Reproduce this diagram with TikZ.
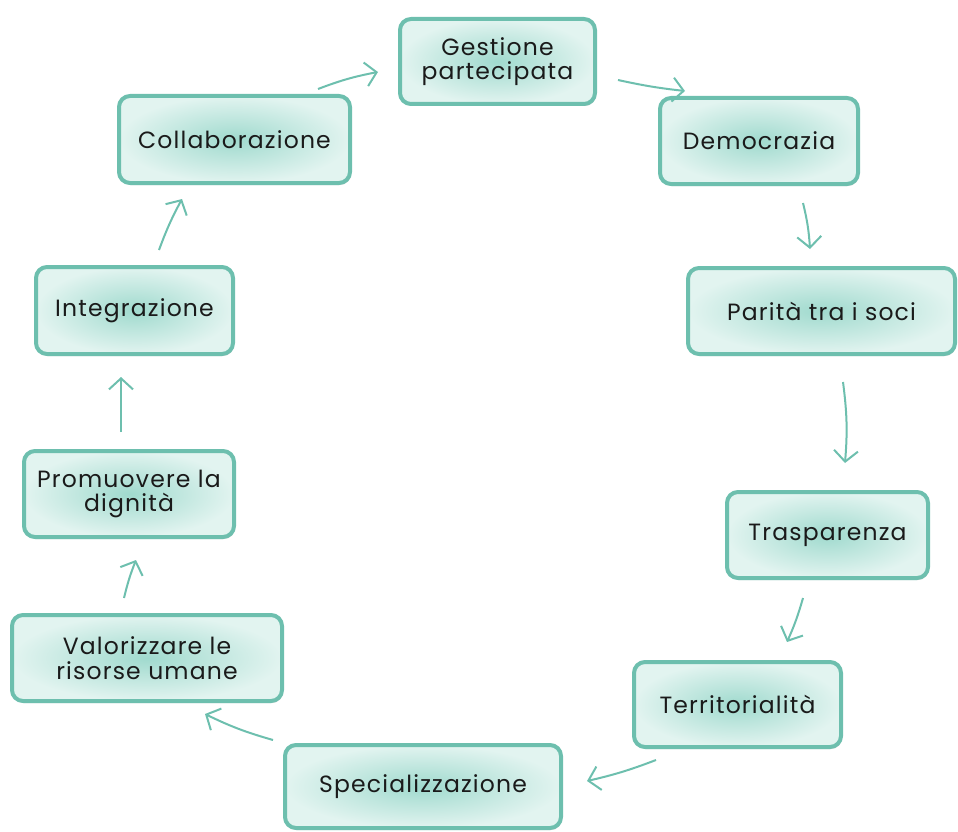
\documentclass[tikz,border=0pt]{standalone}
\usepackage{fontspec}
\setmainfont{Poppins}[LetterSpace=5]
\usetikzlibrary{arrows.meta,shadows}
\definecolor{tealb}{HTML}{6DBFAE}
\definecolor{fillin}{HTML}{A0DACE}
\definecolor{fillout}{HTML}{E2F4F0}
\definecolor{txt}{HTML}{1A1A1A}
\tikzset{
  box/.style={draw=tealb, line width=4pt, rounded corners=11pt, inner color=fillin, outer color=fillout,
    drop shadow={shadow xshift=1pt, shadow yshift=-2pt, opacity=0.25, fill=black!60},
    align=center, text=txt, font=\fontsize{23.5}{24.5}\selectfont, inner sep=0pt},
  conn/.style={draw=tealb, line width=2pt, -{Straight Barb[length=11pt,width=24pt,line width=2pt]}}
}
\begin{document}
\begin{tikzpicture}[x=1pt,y=-1pt]
\useasboundingbox (0,0) rectangle (958,832);
\node[box, minimum width=195pt, minimum height=85pt] (g) at (497.5,61.5) {Gestione\\partecipata};
\node[box, minimum width=198pt, minimum height=86pt] (d) at (759,141) {Democrazia};
\node[box, minimum width=267pt, minimum height=86pt] (p) at (821.5,311) {Parità tra i soci};
\node[box, minimum width=201pt, minimum height=86pt] (t) at (827.5,535) {Trasparenza};
\node[box, minimum width=207pt, minimum height=85pt] (te) at (737.5,704.5) {Territorialità};
\node[box, minimum width=276pt, minimum height=83pt] (s) at (423,786.5) {Specializzazione};
\node[box, minimum width=270pt, minimum height=86pt] (v) at (147,658) {Valorizzare le\\risorse umane};
\node[box, minimum width=210pt, minimum height=86pt] (pr) at (129,494) {Promuovere la\\dignità};
\node[box, minimum width=197pt, minimum height=87pt] (i) at (134.5,310.5) {Integrazione};
\node[box, minimum width=231pt, minimum height=87pt] (c) at (234.5,139.5) {Collaborazione};
% arrow end points
\coordinate (a1s) at (318,89);  \coordinate (a1e) at (378,72);
\coordinate (a2s) at (618,80);  \coordinate (a2e) at (685,91);
\coordinate (a3s) at (803,203); \coordinate (a3e) at (810,249);
\coordinate (a4s) at (843,382); \coordinate (a4e) at (845,463);
\coordinate (a5s) at (803,598); \coordinate (a5e) at (787,642);
\coordinate (a6s) at (656,760); \coordinate (a6e) at (587,781);
\coordinate (a7s) at (273,740); \coordinate (a7e) at (205,714);
\coordinate (a8s) at (124,598); \coordinate (a8e) at (136,560);
\coordinate (a9s) at (121,432); \coordinate (a9e) at (121,377);
\coordinate (a10s) at (159,250); \coordinate (a10e) at (182,199);
\draw[conn] (a1s) to[bend left=5] (a1e);
\draw[conn] (a2s) to[bend right=3] (a2e);
\draw[conn] (a3s) to[bend left=5] (a3e);
\draw[conn] (a4s) to[bend left=6] (a4e);
\draw[conn] (a5s) to[bend left=4] (a5e);
\draw[conn] (a6s) to[bend left=4] (a6e);
\draw[conn] (a7s) to[bend left=5] (a7e);
\draw[conn] (a8s) to[bend left=4] (a8e);
\draw[conn] (a9s) to (a9e);
\draw[conn] (a10s) to[bend left=4] (a10e);
\end{tikzpicture}
\end{document}
